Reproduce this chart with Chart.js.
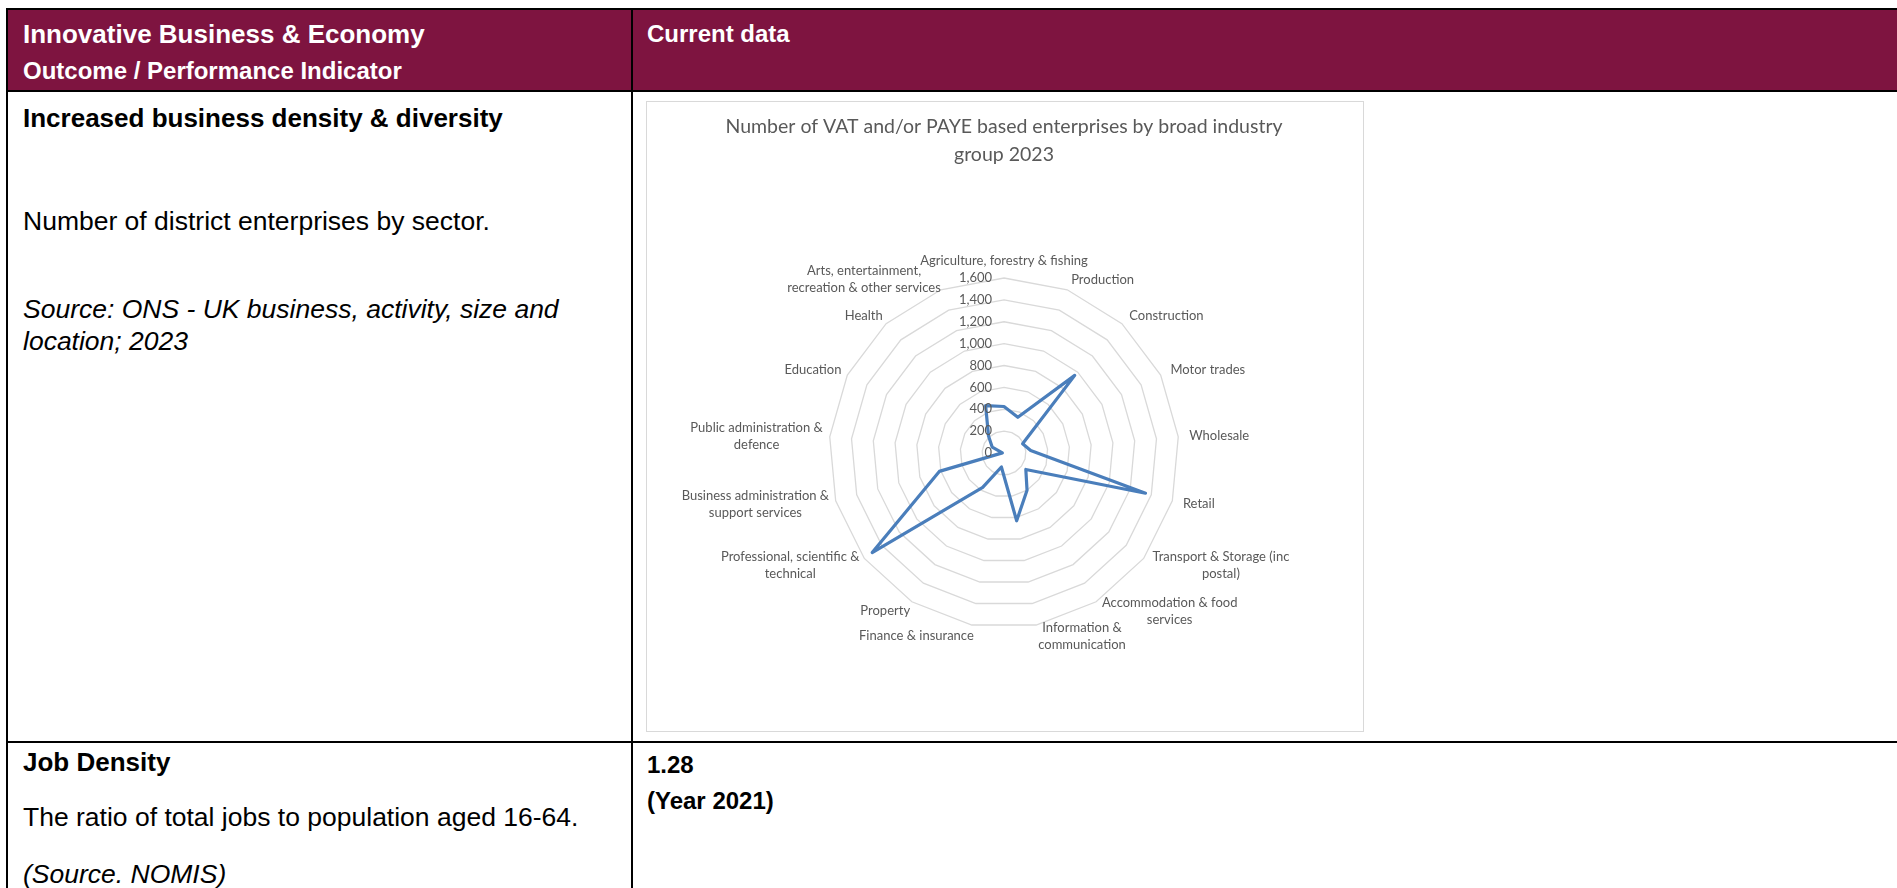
<!DOCTYPE html>
<html>
<head>
<meta charset="utf-8">
<script src="https://cdn.jsdelivr.net/npm/chart.js@4.4.0/dist/chart.umd.min.js"></script>
<style>
  body { margin: 0; width: 1897px; height: 888px; overflow: hidden; background: #fff; position: relative;
         font-family: "Liberation Sans", Arial, sans-serif; color: #000; }
  .t { position: absolute; white-space: nowrap; line-height: 1.15; }
  .b { font-weight: bold; }
  .i { font-style: italic; }
  .w { color: #fff; }
  .rule { position: absolute; background: #000; }
  #head { position: absolute; left: 8px; top: 10px; width: 1889px; height: 80px; background: #7e1440; }
  #box { position: absolute; left: 646px; top: 101px; width: 716px; height: 629px; border: 1px solid #d9d9d9; }
  #box canvas { display: block; }
</style>
</head>
<body>
<div id="head"></div>
<div class="rule" style="left:6px;top:8px;width:1891px;height:2px"></div>
<div class="rule" style="left:6px;top:8px;width:2px;height:880px"></div>
<div class="rule" style="left:6px;top:90px;width:1891px;height:2px"></div>
<div class="rule" style="left:631px;top:8px;width:2px;height:880px"></div>
<div class="rule" style="left:6px;top:741px;width:1891px;height:2px"></div>

<div class="t b w" style="left:23px;top:20px;font-size:26px">Innovative Business &amp; Economy</div>
<div class="t b w" style="left:23px;top:57px;font-size:24px">Outcome / Performance Indicator</div>
<div class="t b w" style="left:647px;top:19.5px;font-size:24px">Current data</div>

<div class="t b" style="left:23px;top:104px;font-size:26px">Increased business density &amp; diversity</div>
<div class="t" style="left:23px;top:206px;font-size:26.5px">Number of district enterprises by sector.</div>
<div class="t i" style="left:23px;top:294px;font-size:26.5px">Source: ONS - UK business, activity, size and</div>
<div class="t i" style="left:23px;top:326px;font-size:26.5px">location; 2023</div>

<div class="t b" style="left:23px;top:748px;font-size:26px">Job Density</div>
<div class="t" style="left:23px;top:802px;font-size:26.5px">The ratio of total jobs to population aged 16-64.</div>
<div class="t i" style="left:23px;top:859px;font-size:26.5px">(Source. NOMIS)</div>
<div class="t b" style="left:647px;top:751px;font-size:24px">1.28</div>
<div class="t b" style="left:647px;top:787px;font-size:24px">(Year 2021)</div>

<div id="box"><canvas id="radar" width="716" height="629"></canvas></div>

<script>
// Sectors, clockwise from the top of the chart
const sectors = [
  ['Agriculture, forestry & fishing'],
  ['Production'],
  ['Construction'],
  ['Motor trades'],
  ['Wholesale'],
  ['Retail'],
  ['Transport & Storage (inc', 'postal)'],
  ['Accommodation & food', 'services'],
  ['Information &', 'communication'],
  ['Finance & insurance'],
  ['Property'],
  ['Professional, scientific &', 'technical'],
  ['Business administration &', 'support services'],
  ['Public administration &', 'defence'],
  ['Education'],
  ['Health'],
  ['Arts, entertainment,', 'recreation & other services']
];
const enterprises = [425, 350, 960, 190, 245, 1345, 250, 400, 630, 130, 370, 1510, 615, 15, 120, 210, 465];
const axisMin = 0;
const axisMax = 1600;
const axisStep = 200;

const chartTitle = ['Number of VAT and/or PAYE based enterprises by broad industry', 'group 2023'];
const textGrey = '#595959';
const labelFont = '13px Lato';

// Excel-style labels: values left of the top spoke, category names round the outside
const radarText = {
  id: 'radarText',
  afterDraw(chart) {
    const s = chart.scales.r;
    const ctx = chart.ctx;
    ctx.save();
    ctx.fillStyle = textGrey;
    ctx.font = labelFont;
    ctx.textBaseline = 'middle';

    ctx.textAlign = 'right';
    s.ticks.forEach(t => {
      ctx.fillText(t.label, s.xCenter - 12, s.yCenter - s.getDistanceFromCenterForValue(t.value));
    });

    ctx.textAlign = 'center';
    const lh = 17;
    s.getLabels().forEach((lines, i) => {
      const a = s.getIndexAngle(i);
      const p = s.getPointPosition(i, s.drawingArea + 11);
      const sin = Math.sin(a);
      const w = Math.max(...lines.map(l => ctx.measureText(l).width));
      let cx = p.x;
      if (sin > 0.05) cx = p.x + w / 2;
      else if (sin < -0.05) cx = p.x + 4 - w / 2;
      let y0 = p.y - (lines.length - 1) * lh / 2;
      if (Math.abs(sin) <= 0.05 && Math.cos(a) > 0) y0 = p.y - 6 - (lines.length - 1) * lh;
      lines.forEach((l, k) => ctx.fillText(l, cx, y0 + k * lh));
    });
    ctx.restore();
  }
};

new Chart(document.getElementById('radar'), {
  type: 'radar',
  data: {
    labels: sectors,
    datasets: [{
      label: 'Enterprises',
      data: enterprises,
      borderColor: '#4a7ebb',
      borderWidth: 3.2,
      borderJoinStyle: 'round',
      borderCapStyle: 'round',
      fill: false,
      pointRadius: 0,
      pointHoverRadius: 0,
      tension: 0
    }]
  },
  options: {
    responsive: false,
    animation: false,
    events: [],
    layout: { padding: { left: 0, right: 2, top: 0, bottom: 102 } },
    plugins: {
      legend: { display: false },
      tooltip: { enabled: false },
      title: {
        display: true,
        text: chartTitle,
        color: textGrey,
        font: { family: 'Lato', size: 19.5, weight: 'normal', lineHeight: 1.44 },
        padding: { top: 11, bottom: 108 }
      }
    },
    scales: {
      r: {
        min: axisMin,
        max: axisMax,
        ticks: { stepSize: axisStep, display: false },
        pointLabels: { display: false },
        angleLines: { display: false },
        grid: { circular: false, color: '#d9d9d9', lineWidth: 1.3 }
      }
    }
  },
  plugins: [radarText]
});
</script>
</body>
</html>
